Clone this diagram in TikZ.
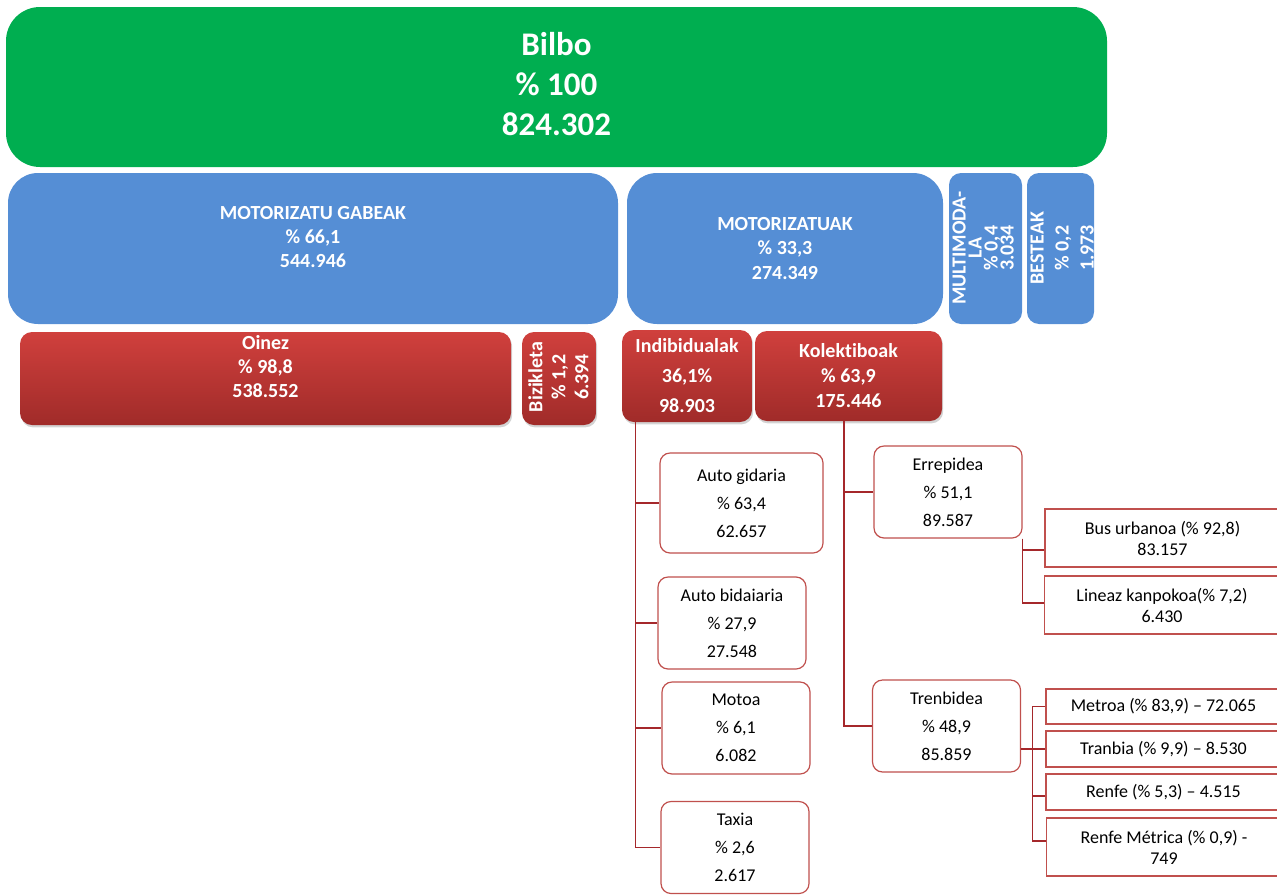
\documentclass[tikz,border=0pt]{standalone}
\usepackage{fontspec}
\setmainfont{Carlito}[Ligatures={TeX,NoCommon}]
\usetikzlibrary{shadows}

\definecolor{bilbogreen}{HTML}{00AE50}
\definecolor{modeblue}{HTML}{558ED5}
\definecolor{redtop}{HTML}{D0403D}
\definecolor{redbot}{HTML}{A02B29}
\definecolor{linkred}{HTML}{A5282B}
\definecolor{edgered}{HTML}{C0504D}

\begin{document}
\begin{tikzpicture}[x=0.5pt, y=-0.5pt,
    topbox/.style={fill=bilbogreen, rounded corners=17pt, text=white, font=\fontsize{16.5}{20}\selectfont\bfseries, align=center, inner sep=0pt},
    bluebox/.style={fill=modeblue, rounded corners=15pt, text=white, font=\fontsize{10}{12.2}\selectfont\bfseries, align=center, inner sep=0pt},
    redbox/.style={top color=redtop, bottom color=redbot, rounded corners=6pt, text=white, font=\fontsize{10}{12.5}\selectfont\bfseries, align=center, inner sep=0pt, drop shadow={opacity=0.35, shadow xshift=0.6pt, shadow yshift=-1.2pt}},
    subbox/.style={draw=edgered, line width=0.6pt, fill=white, rounded corners=5pt, font=\fontsize{9}{14}\selectfont, align=center, minimum width=74pt, minimum height=46pt, inner sep=0pt},
    leafbox/.style={draw=edgered, line width=0.6pt, fill=white, font=\fontsize{9}{10.5}\selectfont, align=center, minimum width=117.5pt, inner sep=0pt},
    wtxt/.style={text=white, font=\fontsize{10}{12}\selectfont\bfseries, align=center},
    conn/.style={draw=linkred, line width=0.7pt}
]
    \useasboundingbox (0,0) rectangle (1277,894);

    % Bilbo
    \node[topbox, minimum width=550.5pt, minimum height=80pt] (bilbo) at (556.5,87) {};
    \node[wtxt, font=\fontsize{16.5}{20}\selectfont\bfseries] (bilbolbl) at (556.5,84) {Bilbo\\\% 100\\824.302};

    % Motorized or not
    \node[bluebox, minimum width=305pt, minimum height=75.5pt] (gabeak) at (313,248.5) {};
    \node[wtxt] (gabeaklbl) at (313,237) {MOTORIZATU GABEAK\\\% 66,1\\544.946};
    \node[bluebox, minimum width=158pt, minimum height=75.5pt] (motor) at (785,248.5) {MOTORIZATUAK\\\% 33,3\\274.349};
    \node[bluebox, rounded corners=6pt, minimum width=36.5pt, minimum height=75.5pt] (multi) at (985.5,248.5) {};
    \node[wtxt, rotate=90, font=\fontsize{10}{8}\selectfont\bfseries] (multilbl) at (983,248) {MULTIMODA-\\LA\\\% 0,4\\3.034};
    \node[bluebox, rounded corners=6pt, minimum width=33.5pt, minimum height=75.5pt] (besteak) at (1060.5,248.5) {};
    \node[wtxt, rotate=90, font=\fontsize{10}{12.5}\selectfont\bfseries] (besteaklbl) at (1062,248) {BESTEAK\\\% 0,2\\1.973};

    % Third row
    \node[redbox, minimum width=245.5pt, minimum height=46.5pt] (oinez) at (265.5,378.5) {};
    \node[wtxt] (oinezlbl) at (265.5,367) {Oinez\\\% 98,8\\538.552};
    \node[redbox, minimum width=37pt, minimum height=46.5pt] (bizik) at (559,378.5) {};
    \node[wtxt, rotate=90, font=\fontsize{10}{11.5}\selectfont\bfseries] (bizilbl) at (558.5,377) {Bizikleta\\\% 1,2\\6.394};
    \node[redbox, font=\fontsize{10}{15}\selectfont\bfseries, minimum width=65pt, minimum height=46pt] (indiv) at (687,376) {Indibidualak\\36,1\%\\98.903};
    \node[redbox, minimum width=93.5pt, minimum height=45pt] (kolek) at (848.5,376) {Kolektiboak\\\% 63,9\\175.446};

    % Individual
    \node[subbox, minimum width=81.5pt, minimum height=50pt] (autog) at (741.5,503) {Auto gidaria\\\% 63,4\\62.657};
    \node[subbox] (autob) at (732,623) {Auto bidaiaria\\\% 27,9\\27.548};
    \node[subbox] (motoa) at (736,728) {Motoa\\\% 6,1\\6.082};
    \node[subbox] (taxia) at (735,847.5) {Taxia\\\% 2,6\\2.617};

    % Collective
    \node[subbox] (errep) at (948,492) {Errepidea\\\% 51,1\\89.587};
    \node[subbox] (trenb) at (946.5,726) {Trenbidea\\\% 48,9\\85.859};

    \node[leafbox, minimum height=29pt] (bus) at (1162.5,538) {Bus urbanoa (\% 92,8)\\83.157};
    \node[leafbox, minimum height=29pt] (lineaz) at (1162,605) {Lineaz kanpokoa(\% 7,2)\\6.430};
    \node[leafbox, minimum height=17.5pt] (metro) at (1163.5,706.5) {Metroa (\% 83,9) -- 72.065};
    \node[leafbox, minimum height=18pt] (tranb) at (1163.5,749) {Tranbia (\% 9,9) -- 8.530};
    \node[leafbox, minimum height=18pt] (renfe) at (1163.5,792) {Renfe (\% 5,3) -- 4.515};
    \node[leafbox, minimum height=29pt] (renfem) at (1164,847) {Renfe Métrica (\% 0,9) -\\749};

    % Connectors
    \foreach \m in {autog,autob,motoa,taxia} {
        \draw[conn] ([xshift=7pt]indiv.south west) |- (\m.west);
    }
    \foreach \m in {errep,trenb} {
        \draw[conn] ([xshift=-2.25pt]kolek.south) |- (\m.west);
    }
    \draw[conn] (errep.south east) |- ([yshift=-6pt]bus.west);
    \draw[conn] (errep.south east) |- ([yshift=1pt]lineaz.west);
    \draw[conn] ([yshift=-11.5pt]trenb.east) -- (tranb.west);
    \draw[conn] (metro.west) -- ++(-13,0) |- ([yshift=3pt]renfem.west);
    \draw[conn] ([yshift=-2pt]renfe.west) -- ++(-13,0);
\end{tikzpicture}
\end{document}
